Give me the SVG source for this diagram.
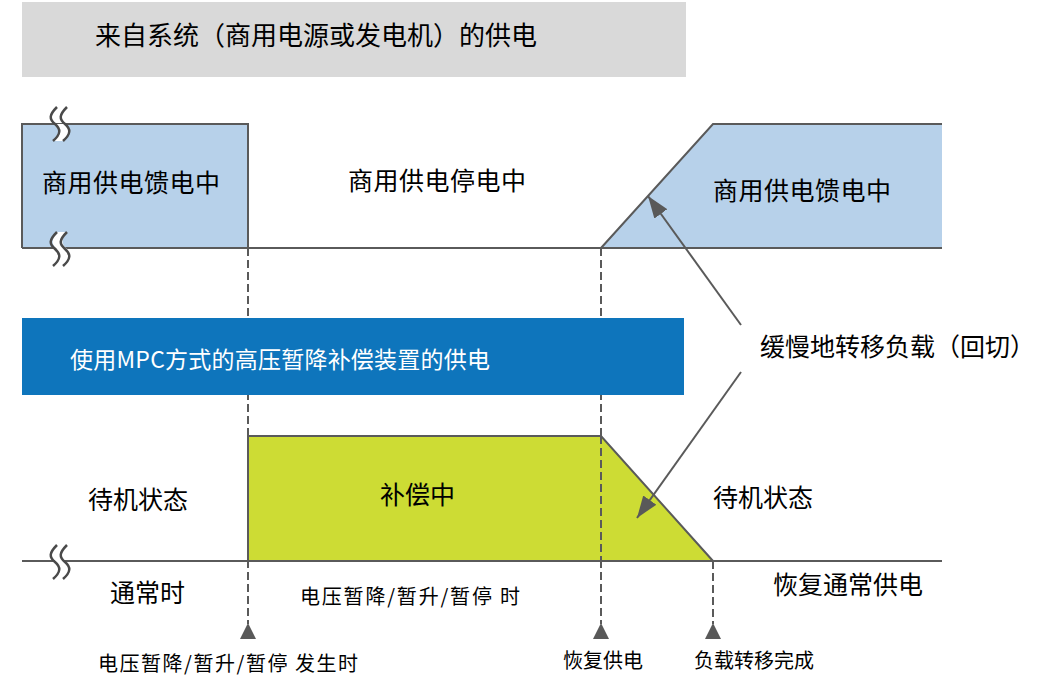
<svg xmlns="http://www.w3.org/2000/svg" width="1062" height="675" viewBox="0 0 1062 675">
<style>
.t{font-family:"Noto Sans CJK SC","Noto Sans",sans-serif;fill:#000}
.l{font-size:25px}
.s{font-size:20px}
.ln{stroke:#5a5a5a;stroke-width:2;fill:none}
.dash{stroke:#5a5a5a;stroke-width:2;stroke-dasharray:8 4;fill:none}
.brk{stroke:#4a4a4a;stroke-width:2.5;fill:none}
.tri{fill:#595959}
</style>
<defs>
<marker id="ah" markerUnits="userSpaceOnUse" markerWidth="24" markerHeight="18" refX="22" refY="8" orient="auto">
<path d="M0,0 L22,8 L0,16 z" fill="#595959"/>
</marker>
<path id="s" d="M2,0 C-6,8 -6,12 0,17 C6,22 6,27 -2,34"/>
</defs>
<rect width="1062" height="675" fill="#fff"/>

<g id="header">
<rect x="22" y="2" width="664" height="75" fill="#d9d9d9"/>
<text class="t" x="95" y="45" font-size="26">来自系统（商用电源或发电机）的供电</text>
</g>

<g id="connectors">
<line class="dash" x1="248" y1="248" x2="248" y2="624"/>
<line class="dash" x1="601" y1="248" x2="601" y2="624"/>
<line class="dash" x1="713" y1="561" x2="713" y2="624"/>
<polygon class="tri" points="248,623 240,639 256,639"/>
<polygon class="tri" points="601,623 593,639 609,639"/>
<polygon class="tri" points="713,623 705,639 721,639"/>
</g>

<g id="feed-left">
<rect x="22" y="124" width="226" height="124" fill="#b7d1ea"/>
<path class="ln" d="M22,248 V124 H248 V248"/>
<text class="t l" x="42" y="192" textLength="178">商用供电馈电中</text>
</g>

<g id="outage">
<text class="t l" x="348" y="190" textLength="178">商用供电停电中</text>
</g>

<g id="feed-right">
<polygon points="601,248 713,124 942,124 942,248" fill="#b7d1ea"/>
<path class="ln" d="M601,248 L713,124 H942"/>
<text class="t l" x="713" y="200" textLength="178">商用供电馈电中</text>
</g>

<line class="ln" x1="22" y1="248" x2="942" y2="248"/>

<g id="mpc-bar">
<rect x="22" y="318" width="662" height="77" fill="#0e75bc"/>
<text class="t" x="70" y="368" font-size="23" style="fill:#fff" textLength="420">使用MPC方式的高压暂降补偿装置的供电</text>
</g>

<g id="compensating">
<polygon points="248,436 601,436 713,561 248,561" fill="#cddc34"/>
<path class="ln" d="M248,561 V436 H601 L713,561"/>
<line class="dash" x1="601" y1="436" x2="601" y2="561"/>
<text class="t l" x="380" y="504">补偿中</text>
</g>

<line class="ln" x1="22" y1="561" x2="942" y2="561"/>

<g id="breaks">
<g transform="translate(0,107)">
<path d="M57,17 C63,22 63,27 55,34 L65,34 C73,27 73,22 67,17 Z" fill="#fff" transform="translate(-2,0)"/>
<use href="#s" x="55" class="brk"/><use href="#s" x="65" class="brk"/>
</g>
<g transform="translate(0,232)">
<path d="M55,0 C49,8 49,12 55,17 L65,17 C59,12 59,8 65,0 Z" fill="#fff" transform="translate(2,0)"/>
<use href="#s" x="55" class="brk"/><use href="#s" x="65" class="brk"/>
</g>
<g transform="translate(0,545)">
<rect x="55" y="14" width="9" height="5" fill="#fff"/>
<use href="#s" x="55" class="brk"/><use href="#s" x="65" class="brk"/>
</g>
</g>

<g id="standby-left"><text class="t l" x="88" y="509">待机状态</text></g>
<g id="standby-right"><text class="t l" x="713" y="507">待机状态</text></g>

<g id="callout">
<text class="t l" x="760" y="356" textLength="275">缓慢地转移负载（回切）</text>
<line class="ln" x1="741" y1="325" x2="648" y2="196" marker-end="url(#ah)"/>
<line class="ln" x1="741" y1="372" x2="637" y2="518" marker-end="url(#ah)"/>
</g>

<g id="labels">
<text class="t l" x="110" y="602">通常时</text>
<text class="t s" x="300" y="604" textLength="220">电压暂降/暂升/暂停 时</text>
<text class="t l" x="773" y="594">恢复通常供电</text>
<text class="t s" x="98" y="671" textLength="260">电压暂降/暂升/暂停 发生时</text>
<text class="t s" x="563" y="668">恢复供电</text>
<text class="t s" x="694" y="668">负载转移完成</text>
</g>
</svg>
